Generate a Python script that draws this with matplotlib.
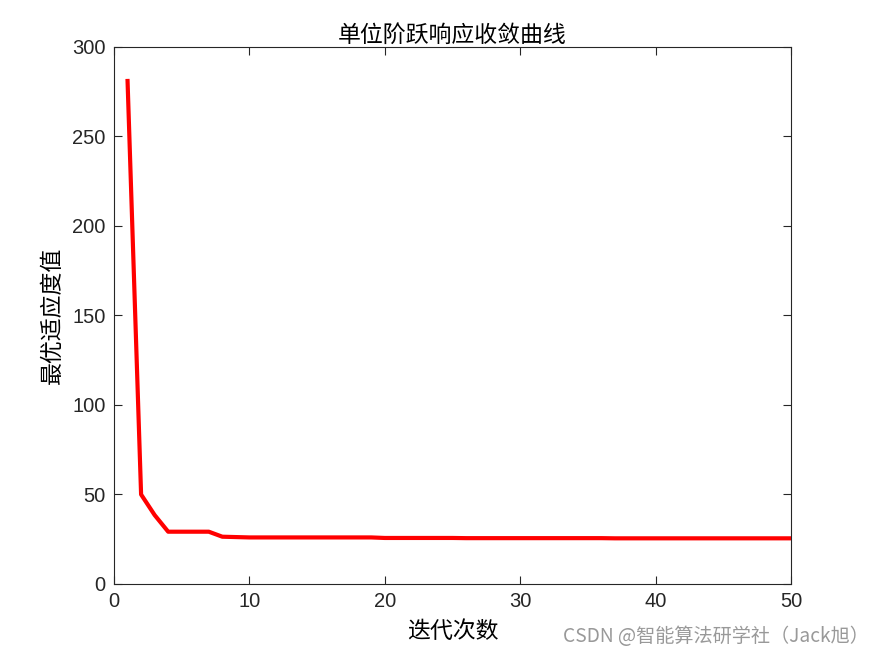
import matplotlib
matplotlib.use("Agg")
import matplotlib.pyplot as plt
import numpy as np

iterations = list(range(1, 51))
fitness = [281.0, 50.0, 38.5, 29.2, 29.2, 29.2, 29.2, 26.4, 26.2, 26.0,
           26.0, 26.0, 26.0, 26.0, 26.0, 26.0, 26.0, 26.0, 26.0, 25.7,
           25.7, 25.7, 25.7, 25.7, 25.7, 25.6, 25.6, 25.6, 25.6, 25.6,
           25.6, 25.6, 25.6, 25.6, 25.6, 25.6, 25.5, 25.5, 25.5, 25.5,
           25.5, 25.5, 25.5, 25.5, 25.5, 25.5, 25.5, 25.5, 25.5, 25.5]
xticks = [0, 10, 20, 30, 40, 50]
yticks = [0, 50, 100, 150, 200, 250, 300]

cjk = ['Noto Sans CJK SC', 'DejaVu Sans']
num_font = 'Liberation Sans'

fig = plt.figure(figsize=(8.75, 6.56), dpi=100)
ax = fig.add_axes([0.1303, 0.1098, 0.904 - 0.1303, 0.9284 - 0.1098])
ax.plot(iterations, fitness, color='#ff0000', linewidth=3)
ax.set_xlim(0, 50)
ax.set_ylim(0, 300)
ax.set_xticks(xticks)
ax.set_yticks(yticks)
ax.tick_params(direction='in', top=True, right=True, length=6, width=0.8,
               labelsize=14.5, colors='#262626', pad=6)
for lab in ax.get_xticklabels() + ax.get_yticklabels():
    lab.set_fontfamily(num_font)
for s in ax.spines.values():
    s.set_color('#262626')
    s.set_linewidth(0.8)

ax.set_title('单位阶跃响应收敛曲线', family=cjk, fontsize=16.5, color='black', pad=4)
ax.set_xlabel('迭代次数', family=cjk, fontsize=16.5, color='black', labelpad=6)
ax.set_ylabel('最优适应度值', family=cjk, fontsize=16.5, color='black', labelpad=6)

fig.text(0.9935, 0.030, 'CSDN @智能算法研学社（Jack旭）', family=cjk, fontsize=13.8,
         color='#999999', ha='right', va='center')

fig.savefig('out.png', dpi=100, facecolor='white')
